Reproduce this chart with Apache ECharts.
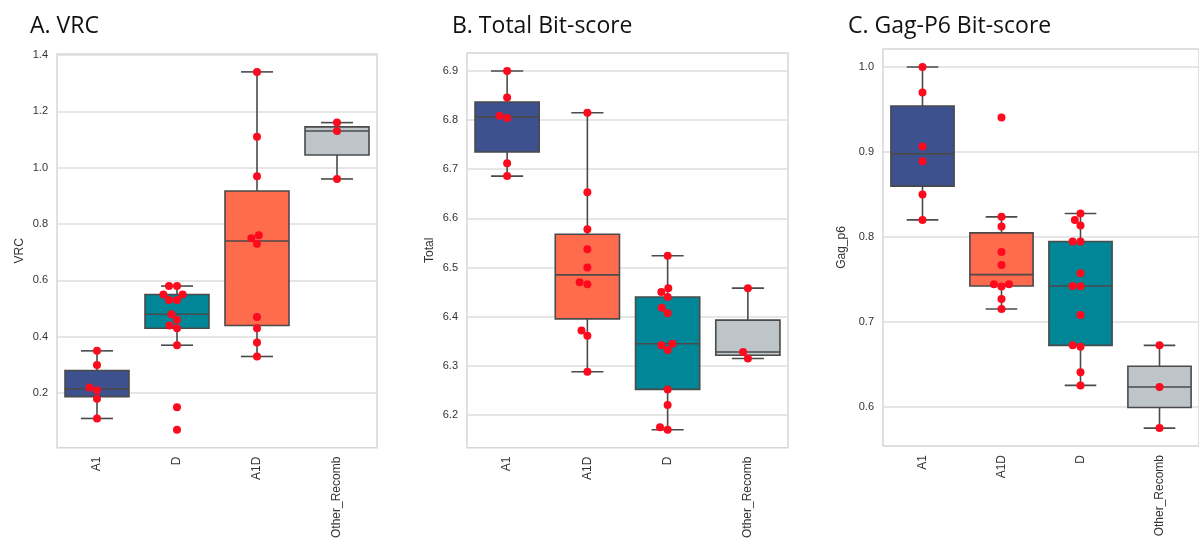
<!DOCTYPE html>
<html>
<head>
<meta charset="utf-8">
<script src="https://cdn.jsdelivr.net/npm/echarts@6/dist/echarts.min.js"></script>
<style>
html,body{margin:0;padding:0;background:#fff;}
#chart{width:1199px;height:541px;}
</style>
</head>
<body>
<div id="chart"></div>
<script>
// ---------- data ----------
const titles = ['A. VRC', 'B. Total Bit-score', 'C. Gag-P6 Bit-score'];
const yNames = ['VRC', 'Total', 'Gag_p6'];

const catsA = ['A1', 'D', 'A1D', 'Other_Recomb'];
const vrcA1 = [0.11, 0.18, 0.21, 0.22, 0.30, 0.35];
const vrcD = [0.07, 0.15, 0.37, 0.43, 0.44, 0.46, 0.48, 0.53, 0.53, 0.55, 0.55, 0.58, 0.58];
const vrcA1D = [0.33, 0.38, 0.43, 0.47, 0.73, 0.75, 0.76, 0.97, 1.11, 1.34];
const vrcOther = [0.96, 1.13, 1.16];
const ticksA = [0.2, 0.4, 0.6, 0.8, 1.0, 1.2, 1.4];

const catsB = ['A1', 'A1D', 'D', 'Other_Recomb'];
const totA1 = [6.686, 6.712, 6.804, 6.809, 6.846, 6.900];
const totA1D = [6.288, 6.361, 6.372, 6.466, 6.470, 6.500, 6.537, 6.578, 6.653, 6.815];
const totD = [6.170, 6.175, 6.220, 6.252, 6.332, 6.342, 6.345, 6.407, 6.418, 6.440, 6.450, 6.458, 6.524];
const totOther = [6.315, 6.328, 6.458];
const ticksB = [6.2, 6.3, 6.4, 6.5, 6.6, 6.7, 6.8, 6.9];

const catsC = ['A1', 'A1D', 'D', 'Other_Recomb'];
const gagA1 = [0.820, 0.850, 0.889, 0.9065, 0.970, 1.000];
const gagA1D = [0.7151, 0.7269, 0.7415, 0.7442, 0.7442, 0.767, 0.7823, 0.8122, 0.8236, 0.9407];
const gagD = [0.6251, 0.6405, 0.6707, 0.6723, 0.708, 0.7418, 0.7422, 0.7572, 0.7945, 0.7945, 0.8134, 0.820, 0.8275];
const gagOther = [0.5748, 0.6232, 0.6723];
const ticksC = [0.6, 0.7, 0.8, 0.9, 1.0];

// ---------- layout / style ----------
const groupColor = { 'A1': '#3d518e', 'D': '#008696', 'A1D': '#ff6b4d', 'Other_Recomb': '#bec5c9' };
const panels = [
  { cats: catsA, groups: [vrcA1, vrcD, vrcA1D, vrcOther], ticks: ticksA, ymin: 0.0065, ymax: 1.4035,
    grid: { left: 57, top: 54, width: 320, height: 396 }, titleLeft: 25, nameGap: 31 },
  { cats: catsB, groups: [totA1, totA1D, totD, totOther], ticks: ticksB, ymin: 6.1335, ymax: 6.9365,
    grid: { left: 467, top: 53, width: 321, height: 397 }, titleLeft: 447, nameGap: 31 },
  { cats: catsC, groups: [gagA1, gagA1D, gagD, gagOther], ticks: ticksC, ymin: 0.55375, ymax: 1.02125,
    grid: { left: 883, top: 49, width: 320, height: 397 }, titleLeft: 843, nameGap: 35 }
];
const LINE = '#4a4a4a';
const DOT = '#fe0a1e';
const DOT_D = 8; // swarm spacing in px

function quantile(sorted, p) {
  const pos = (sorted.length - 1) * p;
  const lo = Math.floor(pos), hi = Math.ceil(pos);
  return sorted[lo] + (sorted[hi] - sorted[lo]) * (pos - lo);
}
function boxStats(vals) {
  const s = vals.slice().sort((a, b) => a - b);
  const q1 = quantile(s, 0.25), med = quantile(s, 0.5), q3 = quantile(s, 0.75);
  const iqr = q3 - q1;
  const lo = s.filter(v => v >= q1 - 1.5 * iqr)[0];
  const hiArr = s.filter(v => v <= q3 + 1.5 * iqr);
  const hi = hiArr[hiArr.length - 1];
  return [lo, q1, med, q3, hi];
}
// beeswarm layout (seaborn-like), returns x offsets in px
function swarm(vals, ppu, d) {
  const order = vals.map((v, i) => i).sort((a, b) => vals[a] - vals[b]);
  const placed = [];
  const out = new Array(vals.length).fill(0);
  for (const i of order) {
    const y = vals[i] * ppu;
    const nb = placed.filter(p => Math.abs(p.y - y) < d);
    let cands = [0];
    nb.forEach(p => cands.push(p.x - Math.sqrt(d * d - (p.y - y) ** 2)));
    nb.forEach(p => cands.push(p.x + Math.sqrt(d * d - (p.y - y) ** 2)));
    cands = cands.map((c, k) => [c, k]).sort((a, b) => (Math.abs(a[0]) - Math.abs(b[0])) || (a[1] - b[1])).map(a => a[0]);
    let chosen = 0;
    for (const c of cands) {
      if (nb.every(p => (p.x - c) ** 2 + (p.y - y) ** 2 >= d * d - 1e-6)) { chosen = c; break; }
    }
    placed.push({ x: chosen, y: y });
    out[i] = chosen;
  }
  return out;
}

const chart = echarts.init(document.getElementById('chart'), null, { renderer: 'canvas' });
const option = {
  backgroundColor: '#ffffff',
  animation: false,
  title: [], grid: [], xAxis: [], yAxis: [], series: []
};

panels.forEach((P, pi) => {
  option.title.push({
    text: titles[pi], left: P.titleLeft, top: 10,
    textStyle: { fontFamily: 'Open Sans', fontSize: 23, fontWeight: 'normal', color: '#111' }
  });
  option.grid.push(Object.assign({ show: true, borderColor: '#d6d6d6', borderWidth: 1.5, backgroundColor: 'transparent' }, P.grid));
  option.xAxis.push({
    type: 'category', gridIndex: pi, data: P.cats,
    axisLine: { show: false }, axisTick: { show: false }, splitLine: { show: false },
    axisLabel: { rotate: 90, fontSize: 12, color: '#333', fontFamily: 'Liberation Sans', margin: 9 }
  });
  option.xAxis.push({ type: 'value', gridIndex: pi, min: -0.5, max: 3.5, show: false });
  option.yAxis.push({
    type: 'value', gridIndex: pi, min: P.ymin, max: P.ymax,
    name: yNames[pi], nameLocation: 'middle', nameGap: P.nameGap,
    nameTextStyle: { fontSize: 12, color: '#333', fontFamily: 'Liberation Sans' },
    axisLine: { show: false },
    axisTick: { show: false, customValues: P.ticks },
    axisLabel: { customValues: P.ticks, fontSize: 11, color: '#333', fontFamily: 'Liberation Sans', margin: 9,
      formatter: v => Number(v).toFixed(1) },
    splitLine: { show: true, lineStyle: { color: '#dedede', width: 1.5 } }
  });
  const stats = P.groups.map((g, i) => [i].concat(boxStats(g)));
  const colors = P.cats.map(c => groupColor[c]);
  option.series.push({
    type: 'custom', xAxisIndex: pi * 2, yAxisIndex: pi, z: 2,
    data: stats,
    encode: { x: 0, y: [1, 2, 3, 4, 5] },
    renderItem: function (params, api) {
      const x = api.value(0);
      const bw = api.size([1, 0])[0];
      const half = bw * 0.4, cap = bw * 0.2;
      const pMin = api.coord([x, api.value(1)]);
      const pQ1 = api.coord([x, api.value(2)]);
      const pMed = api.coord([x, api.value(3)]);
      const pQ3 = api.coord([x, api.value(4)]);
      const pMax = api.coord([x, api.value(5)]);
      const cx = pMed[0];
      const ls = { stroke: LINE, lineWidth: 1.6 };
      return {
        type: 'group',
        children: [
          { type: 'line', shape: { x1: cx, y1: pQ3[1], x2: cx, y2: pMax[1] }, style: ls },
          { type: 'line', shape: { x1: cx, y1: pQ1[1], x2: cx, y2: pMin[1] }, style: ls },
          { type: 'line', shape: { x1: cx - cap, y1: pMax[1], x2: cx + cap, y2: pMax[1] }, style: ls },
          { type: 'line', shape: { x1: cx - cap, y1: pMin[1], x2: cx + cap, y2: pMin[1] }, style: ls },
          { type: 'rect', shape: { x: cx - half, y: pQ3[1], width: half * 2, height: pQ1[1] - pQ3[1] },
            style: { fill: colors[x], stroke: LINE, lineWidth: 1.6 } },
          { type: 'line', shape: { x1: cx - half, y1: pMed[1], x2: cx + half, y2: pMed[1] }, style: ls }
        ]
      };
    }
  });
  const ppu = P.grid.height / (P.ymax - P.ymin);
  const bandPx = P.grid.width / P.cats.length;
  const pts = [];
  P.groups.forEach((g, i) => {
    const offs = swarm(g, ppu, DOT_D);
    g.forEach((v, k) => pts.push([i + offs[k] / bandPx, v]));
  });
  option.series.push({
    type: 'scatter', xAxisIndex: pi * 2 + 1, yAxisIndex: pi, z: 5,
    symbolSize: 8, itemStyle: { color: DOT, opacity: 1 },
    data: pts
  });
});

chart.setOption(option);
</script>
</body>
</html>
